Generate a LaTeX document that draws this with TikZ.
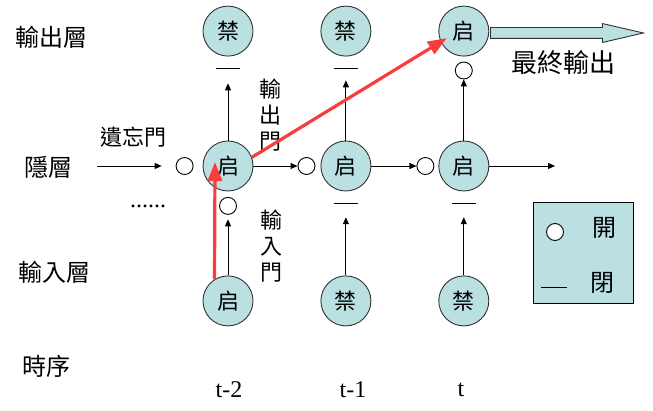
\documentclass[tikz,border=0pt]{standalone}
\usepackage{fontspec}
\setmainfont{Liberation Serif}
\newfontfamily\cjk{Noto Sans CJK TC}
\usetikzlibrary{positioning}
\usetikzlibrary{arrows.meta}
\usetikzlibrary{calc}
\usetikzlibrary{shapes.arrows}
\definecolor{cellblue}{RGB}{186,224,226}
\definecolor{edgegray}{RGB}{50,50,50}
\definecolor{penred}{RGB}{250,60,60}

\begin{document}
\begin{tikzpicture}[ x                 = 1pt
                   , y                 = -1pt
                   , font              = \cjk\fontsize{22}{26}\selectfont
                   , line width        = 0.9pt
                   % Use small filled triangles for the flow arrows
                   , >={Triangle[width=6pt, length=7pt]}
                   , node distance     = 84pt and 67pt
                   ]
  \useasboundingbox (0,0) rectangle (653,411);

  %%
  %% Node types
  %%
  \tikzset{ cell/.style={circle, draw=edgegray, fill=cellblue, minimum size=50pt, inner sep=0pt}
          , gate/.style={circle, draw=black, fill=white, minimum size=17pt, inner sep=0pt}
          , shut/.style={rectangle, fill=black, minimum width=24pt, minimum height=0.9pt, inner sep=0pt}
          , caption/.style={font=\cjk\fontsize{24}{28}\selectfont}
          , tick/.style={font=\fontsize{24}{28}\selectfont}
          , upright/.style={align=center, font=\cjk\fontsize{22}{26}\selectfont}
          }

  %%
  %% Arrow types
  %%
  \tikzset{ flow/.style={->, black}
          , hint/.style={-{Triangle[width=14pt, length=19pt]}, penred, line width=3.2pt}
          }

  %%
  %% Nodes
  %%
  \node (h1) [cell] at (228,166)      {启};
  \node (h2) [cell, right = of h1]    {启};
  \node (h3) [cell, right = of h2]    {启};
  \node (o1) [cell, above = of h1]    {禁};
  \node (o2) [cell, above = of h2]    {禁};
  \node (o3) [cell, above = of h3]    {启};
  \node (x1) [cell, below = of h1]    {启};
  \node (x2) [cell, below = of h2]    {禁};
  \node (x3) [cell, below = of h3]    {禁};

  %%% Gates
  \node (fg1) [gate, left = 9pt of h1]    {};
  \node (fg2) [gate, left = 5pt of h2]    {};
  \node (fg3) [gate, left = 4pt of h3]    {};
  \node (og1) [shut, below = 11pt of o1]  {};
  \node (og2) [shut, below = 11pt of o2]  {};
  \node (og3) [gate, below = 5pt of o3]   {};
  \node (ig1) [gate, below = 5.5pt of h1] {};
  \node (ig2) [shut, below = 11pt of h2]  {};
  \node (ig3) [shut, below = 11pt of h3]  {};

  %%% Row and time labels
  \node (lout)  [caption] at (52,37)   {輸出層};
  \node (lhid)  [caption] at (48,167)  {隱層};
  \node (lin)   [caption] at (54,272)  {輸入層};
  \node (ltime) [caption] at (47,366)  {時序};
  \node (lforget)         at (133,137) {遺忘門};
  \node (lgo)   [upright] at (270,115) {輸\\出\\門};
  \node (lgi)   [upright] at (271,246) {輸\\入\\門};
  \node (dots)  [tick]    at (148,206) {......};
  \node (t2)    [tick]    at (229,390) {t-2};
  \node (t1)    [tick]    at (353,390) {t-1};
  \node (t0)    [tick]    at (461,390) {t};

  %%% Final output
  \node (final) [ single arrow, draw=edgegray, fill=cellblue, anchor=tail
                , inner xsep=0pt, inner ysep=5pt, minimum height=153pt
                , single arrow head extend=4pt, single arrow tip angle=26
                ] at (490,33) {};
  \node (lfinal) [font=\cjk\fontsize{26}{30}\selectfont] at (563,63) {最終輸出};

  %%% Legend
  \node (key)  [rectangle, draw=black, fill=cellblue, minimum width=100pt, minimum height=101pt] at (583,252.5) {};
  \node (keyg) [gate] at (555,232)                    {};
  \node (keyo) [caption] at (604,228)                 {開};
  \node (keys) [shut, minimum width=26pt] at (554,287) {};
  \node (keyc) [caption] at (602,283)                 {閉};

  \coordinate (hin)  at (97,166);
  \coordinate (hout) at (555,166);

  %%
  %% Relationships between nodes
  %%
  %%% Hidden state along time
  \draw[flow, shorten >=14pt] (hin) -- (fg1);
  \draw[flow] (h1) -- (fg2);
  \draw[flow] (h2) -- (fg3);
  \draw[flow] (h3) -- (hout);

  %%% Input side
  \draw[flow, shorten >=4.5pt] (x1) -- (ig1);
  \draw[flow, shorten >=13pt]  (x2) -- (ig2);
  \draw[flow, shorten >=13pt]  (x3) -- (ig3);

  %%% Output side
  \draw[flow, shorten >=14pt] (h1) -- (og1);
  \draw[flow, shorten >=11pt] (h2) -- (og2);
  \draw[flow] (h3) -- (og3);

  %%% Highlighted path
  \draw[hint] (x1.122) -- ([xshift=-13pt, yshift=4pt]h1.center);
  \draw[hint] (h1.20)  -- ([xshift=-17pt, yshift=-7pt]o3.center);

\end{tikzpicture}
\end{document}
